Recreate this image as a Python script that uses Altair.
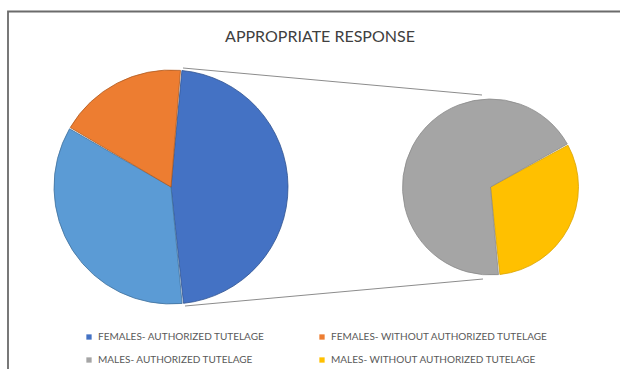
import math
import altair as alt
import pandas as pd

TITLE = "APPROPRIATE RESPONSE"

# Primary pie (left): two female groups plus the combined male slice
primary_labels = ["FEMALES- AUTHORIZED TUTELAGE", "OTHER (MALES)", "FEMALES- WITHOUT AUTHORIZED TUTELAGE"]
primary_values = [47, 35, 18]

# Secondary pie (right): breakdown of the male slice
secondary_labels = ["MALES- WITHOUT AUTHORIZED TUTELAGE", "MALES- AUTHORIZED TUTELAGE"]
secondary_values = [11, 24]

# legend fills column by column: listed so rows read F-auth | F-without, M-auth | M-without
legend_labels = [
    "FEMALES- AUTHORIZED TUTELAGE",
    "MALES- AUTHORIZED TUTELAGE",
    "FEMALES- WITHOUT AUTHORIZED TUTELAGE",
    "MALES- WITHOUT AUTHORIZED TUTELAGE",
]

all_labels = [
    "FEMALES- AUTHORIZED TUTELAGE",
    "FEMALES- WITHOUT AUTHORIZED TUTELAGE",
    "MALES- AUTHORIZED TUTELAGE",
    "MALES- WITHOUT AUTHORIZED TUTELAGE",
    "OTHER (MALES)",
]
fill_colors = ["#4472C4", "#ED7D31", "#A5A5A5", "#FFC000", "#5B9BD5"]
edge_colors = ["#2F528F", "#AE5A21", "#8A8A8A", "#D9A300", "#41719C"]

FONT = "Lato, sans-serif"

primary_df = pd.DataFrame({
    "label": primary_labels,
    "value": primary_values,
    "order": list(range(len(primary_labels))),
})
secondary_df = pd.DataFrame({
    "label": secondary_labels,
    "value": secondary_values,
    "order": list(range(len(secondary_labels))),
})

color_scale = alt.Scale(domain=all_labels, range=fill_colors)
stroke_scale = alt.Scale(domain=all_labels, range=edge_colors)

legend = alt.Legend(
    orient="none", legendX=84, legendY=332, columns=2,
    columnPadding=52, rowPadding=13, symbolType="square", symbolSize=28,
    symbolStrokeWidth=0, labelFontSize=10, labelFont=FONT,
    labelColor="#595959", labelOffset=4, labelLimit=400,
    values=legend_labels, title=None,
)

p_start = math.radians(5)
s_start = math.radians(61.2)

primary = alt.Chart(primary_df).mark_arc(
    radius=117, padAngle=0.012, strokeWidth=0.8
).encode(
    theta=alt.Theta("value:Q", stack=True,
                    scale=alt.Scale(range=[p_start, p_start + 2 * math.pi])),
    order=alt.Order("order:Q"),
    color=alt.Color("label:N", scale=color_scale, legend=legend),
    stroke=alt.Stroke("label:N", scale=stroke_scale, legend=None),
    x=alt.value(171),
    y=alt.value(187),
)

secondary = alt.Chart(secondary_df).mark_arc(
    radius=88, padAngle=0.016, strokeWidth=0.8
).encode(
    theta=alt.Theta("value:Q", stack=True,
                    scale=alt.Scale(range=[s_start, s_start + 2 * math.pi])),
    order=alt.Order("order:Q"),
    color=alt.Color("label:N", scale=color_scale, legend=legend),
    stroke=alt.Stroke("label:N", scale=stroke_scale, legend=None),
    x=alt.value(490.5),
    y=alt.value(187),
)

one = pd.DataFrame({"a": [0]})

connector_top = alt.Chart(one).mark_rule(color="#8C8C8C", strokeWidth=1).encode(
    x=alt.value(183), y=alt.value(68), x2=alt.value(482), y2=alt.value(95)
)
connector_bottom = alt.Chart(one).mark_rule(color="#8C8C8C", strokeWidth=1).encode(
    x=alt.value(185), y=alt.value(306), x2=alt.value(483), y2=alt.value(279)
)

frame = alt.Chart(one).mark_rect(fill="white", stroke="#6B6B6B", strokeWidth=1.8).encode(
    x=alt.value(8), y=alt.value(11.5), x2=alt.value(700), y2=alt.value(500)
)

title = alt.Chart(pd.DataFrame({"t": [TITLE]})).mark_text(
    font=FONT, fontSize=16, color="#404040", align="center", baseline="middle"
).encode(text="t:N", x=alt.value(320), y=alt.value(37))

chart = alt.layer(
    frame, connector_top, connector_bottom, primary, secondary, title
).resolve_scale(
    theta="independent"
).properties(
    width=620, height=369, padding=0, autosize=alt.AutoSizeParams(type="none")
).configure_view(stroke=None)

chart.save("out.html", embed_options={"renderer": "svg", "actions": False})
